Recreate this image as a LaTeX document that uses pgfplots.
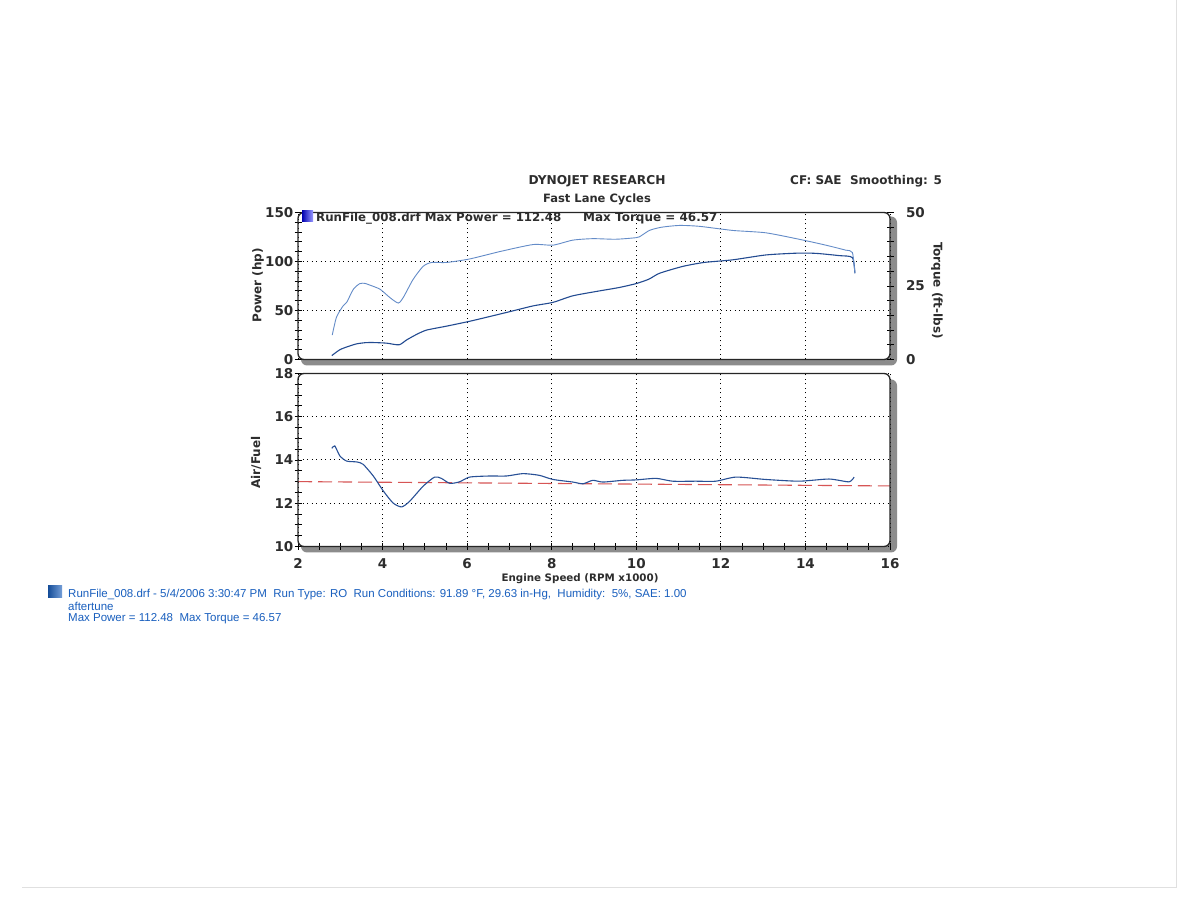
\documentclass[border=0pt]{standalone}
\usepackage{fontspec}
\setmainfont{DejaVu Sans}
\newfontfamily\arialfont{Liberation Sans}
\usepackage{graphicx}
\usepackage{pgfplots}
\pgfplotsset{compat=1.18}

\definecolor{pwr}{RGB}{35,75,145}
\definecolor{trq}{RGB}{100,140,200}
\definecolor{afr}{RGB}{40,80,150}
\definecolor{refl}{RGB}{215,85,85}
\definecolor{shadowgray}{RGB}{140,140,140}
\definecolor{foot}{RGB}{25,95,190}
\definecolor{txt}{RGB}{45,45,45}

\newcommand\tk{\bfseries\fontsize{13.5}{13.5}\selectfont}

% power (hp) vs engine speed (RPM x1000)
\pgfplotstableread{
rpm hp
2.80 4
2.99 10
3.20 13.5
3.39 16
3.60 17.2
3.78 17.3
4.09 16.7
4.39 15
4.57 20
4.80 25.5
5.04 30
5.51 34
6.06 39
6.50 43.5
6.93 48
7.56 54.7
8.03 58.3
8.50 65
9.13 70
9.60 73.5
10.00 77.5
10.30 82
10.55 88
11.10 95
11.60 99
12.28 101.7
13.07 106.7
13.80 108.5
14.25 108.3
14.80 106
15.11 104
15.17 88
}\power

% torque (ft-lbs)
\pgfplotstableread{
rpm tq
2.81 8.3
2.91 14.4
3.07 18.3
3.15 19.4
3.31 23.9
3.46 25.8
3.58 25.9
3.70 25.3
3.94 23.9
4.17 21.1
4.37 19.2
4.49 21.1
4.72 27.2
4.96 31.7
5.16 33.0
5.51 33.0
6.06 34.2
6.77 36.7
7.56 39.1
8.03 38.9
8.50 40.6
8.97 41.1
9.50 40.9
9.90 41.3
10.07 41.7
10.31 43.9
10.60 45.0
11.02 45.6
11.49 45.3
12.28 43.9
13.06 43.1
13.85 40.9
14.48 38.9
14.95 37.2
15.11 36.4
15.17 29.4
}\torque

% air/fuel ratio
\pgfplotstableread{
rpm afr
2.80 14.54
2.87 14.65
2.99 14.19
3.15 13.95
3.39 13.91
3.54 13.80
3.78 13.26
4.02 12.56
4.25 12.01
4.45 11.83
4.64 12.09
4.96 12.79
5.23 13.21
5.39 13.15
5.59 12.92
5.82 12.99
6.06 13.21
6.53 13.26
6.93 13.26
7.32 13.37
7.71 13.29
8.03 13.10
8.50 12.98
8.74 12.90
8.97 13.06
9.21 12.98
9.68 13.06
10.00 13.08
10.47 13.15
10.86 13.02
11.41 13.02
11.88 13.02
12.36 13.21
13.06 13.10
13.85 13.02
14.56 13.12
15.03 12.99
15.15 13.21
}\afrtab

\pgfplotsset{dyno/.style={
  scale only axis, width=592pt,
  xmin=2, xmax=16,
  axis line style={draw=none},
  tick style={black, line width=0.9pt},
  tick align=center, major tick length=7pt, minor tick length=7pt,
  /pgf/number format/assume math mode=true,
  tick label style={font=\tk, text=txt},
}}

\begin{document}
\begin{tikzpicture}[x=1pt,y=1pt]
% page
\fill[white] (0,0) rectangle (1179,900);
\draw[black!12, line width=1pt] (22,13) -- (1176,13) -- (1176,900);

% frames (shadow + panel)
\fill[shadowgray, rounded corners=6] (301,535) rectangle (897,684);
\fill[white, rounded corners=6] (298,541) rectangle (890,688);
\fill[shadowgray, rounded corners=6] (301,348) rectangle (897,521);
\fill[white, rounded corners=6] (298,354) rectangle (890,527);

% top panel: power
\begin{axis}[dyno, at={(298pt,541pt)}, anchor=south west, height=147pt,
  ymin=0, ymax=150, ytick={0,50,100,150}, minor y tick num=4,
  xtick={2,4,...,16}, xticklabels={}, xtick style={draw=none},
  ytick pos=left,
  yticklabel style={inner sep=1pt},
  grid=major,
  major grid style={black, line width=1pt, dash pattern=on 1.2pt off 3.3pt},
]
\addplot[pwr, line width=1.1pt, smooth, tension=0.4] table[x=rpm, y=hp] {\power};
\end{axis}

% top panel: torque on right axis
\begin{axis}[dyno, at={(298pt,541pt)}, anchor=south west, height=147pt,
  ymin=0, ymax=50, ytick={0,25,50}, minor y tick num=4,
  axis y line*=right, axis x line=none,
  yticklabel style={xshift=9pt},
]
\addplot[trq, line width=0.9pt, smooth, tension=0.4] table[x=rpm, y=tq] {\torque};
\end{axis}

% bottom panel: air/fuel
\begin{axis}[dyno, at={(298pt,354pt)}, anchor=south west, height=173pt,
  ymin=10, ymax=18, ytick={10,12,14,16,18}, minor y tick num=3,
  xtick={2,4,...,16}, minor x tick num=3,
  xtick pos=left, ytick pos=left,
  yticklabel style={inner sep=1pt},
  xticklabel style={yshift=-5pt},
  grid=major,
  major grid style={black, line width=1pt, dash pattern=on 1.2pt off 3.3pt},
]
\addplot[refl, line width=1.1pt, dash pattern=on 14pt off 6pt] coordinates {(2,13.0) (16,12.8)};
\addplot[afr, line width=1.1pt, smooth, tension=0.4] table[x=rpm, y=afr] {\afrtab};
\end{axis}

% frame outlines
\draw[black!85, line width=1.3pt, rounded corners=6] (298,541) rectangle (890,688);
\draw[black!85, line width=1.3pt, rounded corners=6] (298,354) rectangle (890,527);

% titles
\node[font=\bfseries\fontsize{12.2}{13}\selectfont, text=txt] at (597,719) {DYNOJET RESEARCH};
\node[font=\bfseries\fontsize{11.5}{12}\selectfont, text=txt] at (597,701) {Fast Lane Cycles};
\node[font=\bfseries\fontsize{12}{13}\selectfont, text=txt, anchor=west, inner sep=0pt] at (790,719) {CF: SAE\ \ Smoothing: 5};

% legend line in top panel
\shade[left color=blue!70!black, right color=blue!40] (302,679) rectangle (313,690);
\node[font=\bfseries\fontsize{11.8}{12}\selectfont, text=txt, anchor=west, inner sep=0pt] at (316,682) {RunFile\_008.drf Max Power = 112.48};
\node[font=\bfseries\fontsize{12}{12}\selectfont, text=txt, anchor=west, inner sep=0pt] at (583,682) {Max Torque = 46.57};

% axis titles
\node[font=\bfseries\fontsize{12}{12}\selectfont, text=txt, rotate=90] at (258,615) {Power (hp)};
\node[font=\bfseries\fontsize{12}{12}\selectfont, text=txt, rotate=-90] at (937,610) {Torque (ft-lbs)};
\node[font=\bfseries\fontsize{12}{12}\selectfont, text=txt, rotate=90] at (256,438) {Air/Fuel};
\node[font=\bfseries\fontsize{10.3}{12}\selectfont, text=txt] at (580,322) {Engine Speed (RPM x1000)};

% footer
\shade[left color=foot!80!black, right color=foot!60] (48,303) rectangle (62,315);
\begin{scope}[every node/.style={anchor=west, inner sep=0pt, text=foot, font=\arialfont\fontsize{11.5}{12}\selectfont}]
\node at (68,306) {RunFile\_008.drf - 5/4/2006 3:30:47 PM\ \ Run Type: RO\ \ Run Conditions: 91.89 °F, 29.63 in-Hg,\ \ Humidity:\ \ 5\%, SAE: 1.00};
\node at (68,294) {aftertune};
\node at (68,282) {Max Power = 112.48\ \ Max Torque = 46.57};
\end{scope}
\end{tikzpicture}
\end{document}
